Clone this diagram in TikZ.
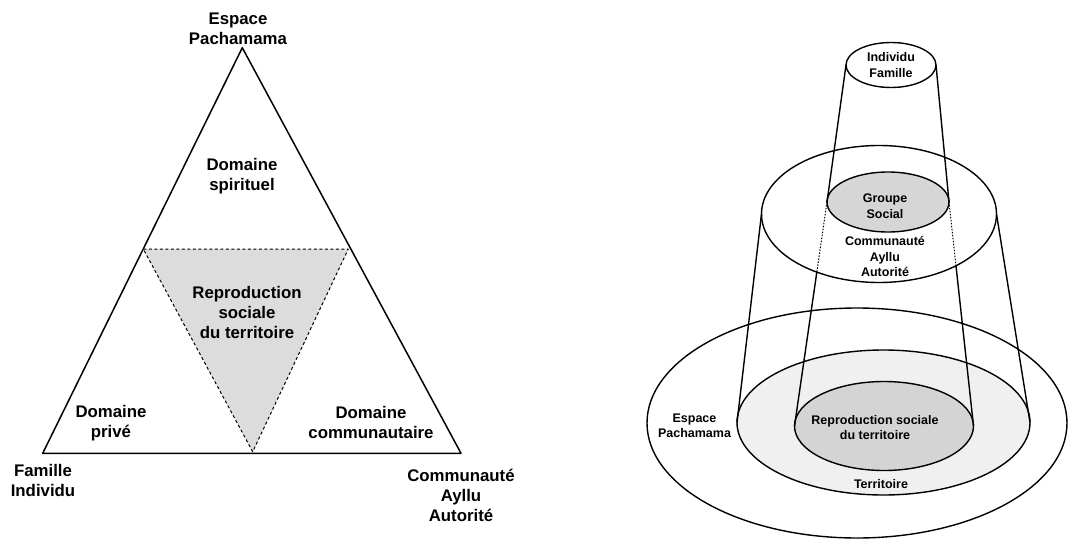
\documentclass[tikz,border=0pt]{standalone}
\usepackage{fontspec}
\setmainfont{Liberation Sans}
\usetikzlibrary{shapes.geometric,calc}
\definecolor{trigray}{HTML}{DCDCDC}
\definecolor{grpgray}{HTML}{D6D6D6}
\definecolor{repgray}{HTML}{D4D4D4}
\definecolor{tergray}{HTML}{F0F0F0}
\tikzset{
  bigtxt/.style={font=\fontsize{16.8}{20}\selectfont\bfseries, align=center, inner sep=0pt},
  smalltxt/.style={font=\fontsize{12.5}{15.5}\selectfont\bfseries, align=center, inner sep=0pt},
  outline/.style={line width=1.5pt},
  dashtri/.style={line width=1pt, dash pattern=on 3pt off 2.5pt},
  dotline/.style={line width=1pt, dash pattern=on 1.5pt off 1.5pt},
  cone/.style={line width=1.4pt},
  ell/.style={ellipse, draw, line width=1.4pt, inner sep=0pt, outer sep=0pt}
}
\begin{document}
\begin{tikzpicture}[x=1pt,y=-1pt,line join=round]
\useasboundingbox (0,0) rectangle (1069,554);
\fill[white] (0,0) rectangle (1069,554);

% ---------- left: triangle ----------
\coordinate (A) at (242.3,47.7);
\coordinate (B) at (42.7,453.3);
\coordinate (C) at (461,453.3);
\coordinate (P) at (143.3,249);
\coordinate (Q) at (348.3,249);
\coordinate (R) at (252.7,451.7);
\fill[trigray] (P) -- (Q) -- (R) -- cycle;
\draw[dashtri] (P) -- (Q) -- (R) -- cycle;
\draw[outline] (A) -- (B) -- (C) -- cycle;

\node[bigtxt] (tEsp) at (238,29) {Espace\\Pachamama};
\node[bigtxt] (tSpi) at (242,176) {Domaine\\spirituel};
\node[bigtxt] (tRep) at (247,312) {Reproduction\\sociale\\du territoire};
\node[bigtxt] (tPri) at (111,423) {Domaine\\privé};
\node[bigtxt] (tCom) at (371,422) {Domaine\\communautaire};
\node[bigtxt] (tFam) at (43,480) {Famille\\Individu};
\node[bigtxt] (tAyl) at (461,495) {Communauté\\Ayllu\\Autorité};

% ---------- right: cone of ellipses ----------
\node[ell, minimum width=420pt, minimum height=230pt] (out) at (857,423) {};
\node[ell, fill=tergray, minimum width=293pt, minimum height=145pt] (ter) at (883.5,422.5) {};
\node[ell, fill=repgray, minimum width=179pt, minimum height=89pt] (rep) at (884,426) {};
\node[ell, minimum width=235pt, minimum height=137pt] (mid) at (879,214) {};
\node[ell, fill=grpgray, minimum width=122pt, minimum height=60pt] (grp) at (888,202) {};
\node[ell, minimum width=90pt, minimum height=45pt] (top) at (891,65) {};

% inner cone: top ellipse -> Groupe Social -> Reproduction
\coordinate (lx) at ($(grp.west)!0.313!(rep.west)$);
\coordinate (rx) at ($(grp.east)!0.2845!(rep.east)$);
\draw[cone] (top.west) -- (grp.west);
\draw[dotline] (grp.west) -- (lx);
\draw[cone] (lx) -- (rep.west);
\draw[cone] (top.east) -- (grp.east);
\draw[dotline] (grp.east) -- (rx);
\draw[cone] (rx) -- (rep.east);

% outer cone: Communauté -> Territoire
\draw[cone] (mid.west) -- (ter.west);
\draw[cone] (mid.east) -- (ter.east);

\node[smalltxt] (lInd) at (891,65) {Individu\\Famille};
\node[smalltxt] (lGrp) at (885,206) {Groupe\\Social};
\node[smalltxt] (lCom) at (885,256.5) {Communauté\\Ayllu\\Autorité};
\node[smalltxt] (lRep) at (875,427.5) {Reproduction sociale\\du territoire};
\node[smalltxt] (lTer) at (881,484) {Territoire};
\node[smalltxt] (lEsp) at (694.5,426) {Espace\\Pachamama};
\end{tikzpicture}
\end{document}
